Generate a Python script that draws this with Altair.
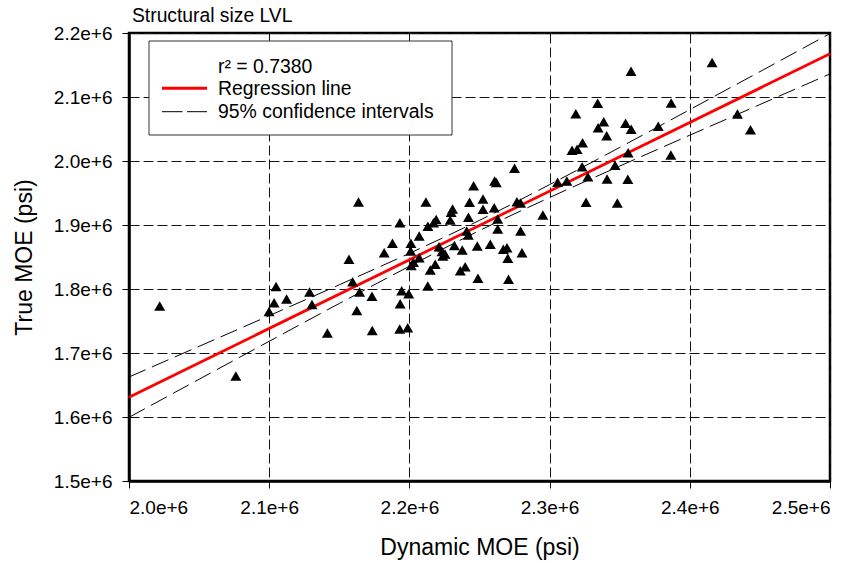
import altair as alt
import pandas as pd

FONT = "Liberation Sans"

chart_title = "Structural size LVL"
x_title = "Dynamic MOE (psi)"
y_title = "True MOE (psi)"
legend_labels = ["r\u00b2 = 0.7380", "Regression line", "95% confidence intervals"]

x_ticks = [2000000, 2100000, 2200000, 2300000, 2400000, 2500000]
y_ticks = [1500000, 1600000, 1700000, 1800000, 1900000, 2000000, 2100000, 2200000]

dynamic_moe = [2021900, 2076200, 2099900, 2103500, 2104900, 2112400, 2128800, 2130500, 2141500, 2156900,
               2159500, 2163700, 2164500, 2173300, 2162500, 2173500, 2193100, 2198800, 2182000, 2187900,
               2193200, 2193400, 2194500, 2199500, 2201100, 2200900, 2202900, 2201300, 2207000, 2207000,
               2211800, 2213200, 2217200, 2219100, 2214900, 2218400, 2213100, 2221100, 2223300, 2225400,
               2223900, 2229100, 2229800, 2230800, 2232100, 2237700, 2236300, 2239800, 2240900, 2242000,
               2242100, 2242900, 2245800, 2248400, 2248900, 2252500, 2252500, 2257700, 2260500, 2260800,
               2262000, 2263000, 2263000, 2267000, 2269600, 2270200, 2270700, 2275000, 2276700, 2279300,
               2279300, 2280300, 2295200, 2305700, 2312300, 2316000, 2319600, 2318700, 2323500, 2323200,
               2327300, 2326000, 2334300, 2334600, 2338600, 2340700, 2341000, 2346700, 2348300, 2354200,
               2358200, 2356000, 2355800, 2358100, 2377500, 2386700, 2386500, 2415900, 2434000, 2443300]

true_moe = [1773400, 1664100, 1764800, 1778600, 1803900, 1784400, 1795300, 1775800, 1731300, 1846600,
            1811400, 1935900, 1795300, 1788800, 1766400, 1735200, 1737500, 1739500, 1856700, 1871400,
            1903600, 1777000, 1797200, 1792700, 1871400, 1859400, 1841700, 1836700, 1882800, 1848900,
            1935900, 1898000, 1903600, 1908600, 1829700, 1838600, 1804700, 1866100, 1858600, 1854700,
            1851600, 1907800, 1919800, 1925000, 1868000, 1860900, 1828600, 1834800, 1890600, 1884400,
            1912000, 1935500, 1961400, 1867200, 1816700, 1940600, 1924500, 1869800, 1927000, 1968800,
            1966400, 1909400, 1893800, 1862000, 1864500, 1848000, 1815200, 1988600, 1936400, 1934400,
            1890600, 1856700, 1915600, 1966700, 1968800, 2016700, 2018300, 2073900, 2028600, 1991100,
            1975500, 1935500, 2090200, 2052000, 2061400, 2039400, 1971900, 1993300, 1934400, 2058900,
            2049700, 2013000, 1971400, 2140200, 2054200, 2090600, 2009400, 2153900, 2073400, 2048900]

reg_x = [2000000, 2500000]
reg_y = [1631000, 2167600]

ci_x = [2000000, 2050000, 2100000, 2150000, 2200000, 2250000, 2300000, 2350000, 2400000, 2450000, 2500000]
ci_upper = [1662500, 1710400, 1758300, 1806600, 1855700, 1907300, 1963100, 2021200, 2080300, 2139600, 2199100]
ci_lower = [1599500, 1659000, 1718300, 1777400, 1835500, 1891300, 1942900, 1992000, 2040300, 2088200, 2136100]

pts = pd.DataFrame({"x": dynamic_moe, "y": true_moe})
reg = pd.DataFrame({"x": reg_x, "y": reg_y})
ci = pd.DataFrame({
    "x": ci_x + ci_x,
    "y": ci_upper + ci_lower,
    "band": ["upper"] * len(ci_x) + ["lower"] * len(ci_x),
})

xscale = alt.Scale(domain=[2000000, 2500000], nice=False, zero=False)
yscale = alt.Scale(domain=[1500000, 2200000], nice=False, zero=False)

xaxis = alt.Axis(title=x_title, values=x_ticks, format=".1e", grid=True,
                 titleY=66, titleBaseline="middle")
yaxis = alt.Axis(title=y_title, values=y_ticks, format=".1e", grid=True,
                 titleX=-105, titleY=224, titleBaseline="middle")

X = alt.X("x:Q", scale=xscale, axis=xaxis)
Y = alt.Y("y:Q", scale=yscale, axis=yaxis)

ci_layer = alt.Chart(ci).mark_line(color="black", strokeWidth=1, strokeDash=[18, 7],
                                   interpolate="monotone").encode(x=X, y=Y, detail="band:N")
reg_layer = alt.Chart(reg).mark_line(color="#ff0000", strokeWidth=2.8).encode(x=X, y=Y)
pt_layer = alt.Chart(pts).mark_point(shape="triangle-up", filled=True, color="black",
                                     size=120, opacity=1).encode(x=X, y=Y)

dummy = alt.Data(values=[{"k": 1}])

box = alt.Chart(dummy).mark_rect(fill="white", stroke="#333333", strokeWidth=1).encode(
    x=alt.value(20), x2=alt.value(323), y=alt.value(8), y2=alt.value(102))
leg_red = alt.Chart(dummy).mark_rule(color="#ff0000", strokeWidth=3).encode(
    x=alt.value(33), x2=alt.value(78), y=alt.value(55.3))
leg_dash = alt.Chart(dummy).mark_rule(color="black", strokeWidth=1, strokeDash=[20.5, 4.5]).encode(
    x=alt.value(33), x2=alt.value(78), y=alt.value(78.7))

text_layers = []
for lbl, yb in zip(legend_labels, [39.7, 62.0, 85.3]):
    text_layers.append(
        alt.Chart(dummy).mark_text(align="left", baseline="alphabetic", font=FONT,
                                   fontSize=19.4, color="black").encode(
            x=alt.value(89), y=alt.value(yb), text=alt.value(lbl)))

title_layer = alt.Chart(dummy).mark_text(align="left", baseline="alphabetic", font=FONT,
                                         fontSize=19.3, color="black").encode(
    x=alt.value(3), y=alt.value(-11.3), text=alt.value(chart_title))

chart = alt.layer(ci_layer, reg_layer, pt_layer, box, leg_red, leg_dash, *text_layers, title_layer).properties(
    width=701, height=448,
    padding={"left": 129, "top": 33, "right": 31, "bottom": 82},
    autosize=alt.AutoSizeParams(type="none"),
    background="white",
).configure_view(
    stroke="black", strokeWidth=2.5
).configure_axis(
    domainColor="black", domainWidth=2.5,
    tickColor="black", tickSize=7, tickWidth=1,
    labelFont=FONT, labelFontSize=19, labelColor="black", labelPadding=10,
    titleFont=FONT, titleFontSize=23, titleFontWeight="normal", titleColor="black",
    gridColor="#111111", gridDash=[10, 4], gridWidth=1,
)

chart.save("out.html", embed_options={"renderer": "svg", "actions": False})
